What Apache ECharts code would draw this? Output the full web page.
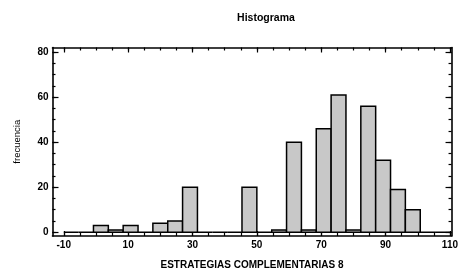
<!DOCTYPE html>
<html>
<head>
<meta charset="utf-8">
<script src="https://cdn.jsdelivr.net/npm/echarts@6/dist/echarts.min.js"></script>
<style>
html,body{margin:0;padding:0;background:#fff;}
#chart{width:461px;height:275px;}
</style>
</head>
<body>
<div id="chart"></div>
<script>
// ---- data ----
const binEdges = [-10, -5.38, -0.77, 3.85, 8.46, 13.08, 17.69, 22.31, 26.92, 31.54, 36.15, 40.77, 45.38, 50,
  54.62, 59.23, 63.85, 68.46, 73.08, 77.69, 82.31, 86.92, 91.54, 96.15, 100.77, 105.38, 110];
const counts = [0, 0, 3, 1, 3, 0, 4, 5, 20, 0, 0, 0, 20, 0, 1, 40, 1, 46, 61, 1, 56, 32, 19, 10, 0, 0];
const xTickLabels = [-10, 10, 30, 50, 70, 90, 110];
const xMinorTicks = [-10, -5, 0, 5, 10, 15, 20, 25, 30, 35, 40, 45, 50, 55, 60, 65, 70, 75, 80, 85, 90, 95, 100, 105, 110];
const yTickLabels = [0, 20, 40, 60, 80];
const yMinorTicks = [0, 5, 10, 15, 20, 25, 30, 35, 40, 45, 50, 55, 60, 65, 70, 75, 80];
const titleText = 'Histograma';
const xName = 'ESTRATEGIAS COMPLEMENTARIAS 8';
const yName = 'frecuencia';

const seriesData = counts.map((c, i) => [binEdges[i], binEdges[i + 1], c]);

const XMIN = -13.5, XMAX = 110.5, YMIN = -1.7, YMAX = 82.1;
const lineStyle = {color: '#000', width: 1.6};
const FF = 'Liberation Sans, Arial, sans-serif';
const font = {fontFamily: FF, fontWeight: 'bold', fontSize: 10, color: '#000'};

function xAx(pos, major, showLabel, showLine, extra) {
  return Object.assign({
    type: 'value', min: XMIN, max: XMAX, position: pos,
    axisLine: {show: showLine, onZero: false, lineStyle: lineStyle},
    axisTick: {show: true, inside: true, length: major ? 5 : 3, customValues: major ? xTickLabels : xMinorTicks, lineStyle: {color: '#000', width: 1.2}},
    axisLabel: Object.assign({show: showLabel, customValues: xTickLabels, margin: 4}, font),
    splitLine: {show: false}
  }, extra || {});
}
function yAx(pos, major, showLabel, showLine, extra) {
  return Object.assign({
    type: 'value', min: YMIN, max: YMAX, position: pos,
    axisLine: {show: showLine, onZero: false, lineStyle: lineStyle},
    axisTick: {show: true, inside: true, length: major ? 6 : 3, customValues: major ? yTickLabels : yMinorTicks, lineStyle: {color: '#000', width: 1.2}},
    axisLabel: Object.assign({show: showLabel, customValues: yTickLabels, margin: 4}, font),
    splitLine: {show: false}
  }, extra || {});
}

const chart = echarts.init(document.getElementById('chart'), null, {renderer: 'canvas'});
chart.setOption({
  animation: false,
  backgroundColor: '#fff',
  title: {
    text: titleText, left: 261, top: 8, textAlign: 'center',
    textStyle: {fontFamily: FF, fontWeight: 'bold', fontSize: 10.5, color: '#000'}
  },
  grid: {left: 52.5, right: 4, top: 47.5, bottom: 31, containLabel: false},
  xAxis: [
    xAx('bottom', true, true, true, {
      name: xName, nameLocation: 'middle', nameGap: 24,
      nameTextStyle: {fontFamily: FF, fontWeight: 'bold', fontSize: 10, color: '#000'}
    }),
    xAx('bottom', false, false, false),
    xAx('top', true, false, true),
    xAx('top', false, false, false)
  ],
  yAxis: [
    yAx('left', true, true, true, {
      name: yName, nameLocation: 'middle', nameGap: 30,
      nameTextStyle: {fontFamily: FF, fontSize: 9.5, color: '#000'}
    }),
    yAx('left', false, false, false),
    yAx('right', true, false, true),
    yAx('right', false, false, false)
  ],
  series: [{
    type: 'custom',
    xAxisIndex: 0, yAxisIndex: 0,
    data: seriesData,
    clip: true,
    renderItem: function (params, api) {
      const x0 = api.value(0), x1 = api.value(1), c = api.value(2);
      const pTop = api.coord([x0, c]);
      const pBot = api.coord([x1, 0]);
      if (c === 0) {
        return {type: 'line', shape: {x1: pTop[0], y1: pBot[1], x2: pBot[0], y2: pBot[1]},
          style: {stroke: '#000', lineWidth: 1.5}};
      }
      return {
        type: 'rect',
        shape: {x: pTop[0], y: pTop[1], width: pBot[0] - pTop[0], height: pBot[1] - pTop[1]},
        style: {fill: '#c8c8c8', stroke: '#000', lineWidth: 1.5}
      };
    }
  }]
});
</script>
</body>
</html>
